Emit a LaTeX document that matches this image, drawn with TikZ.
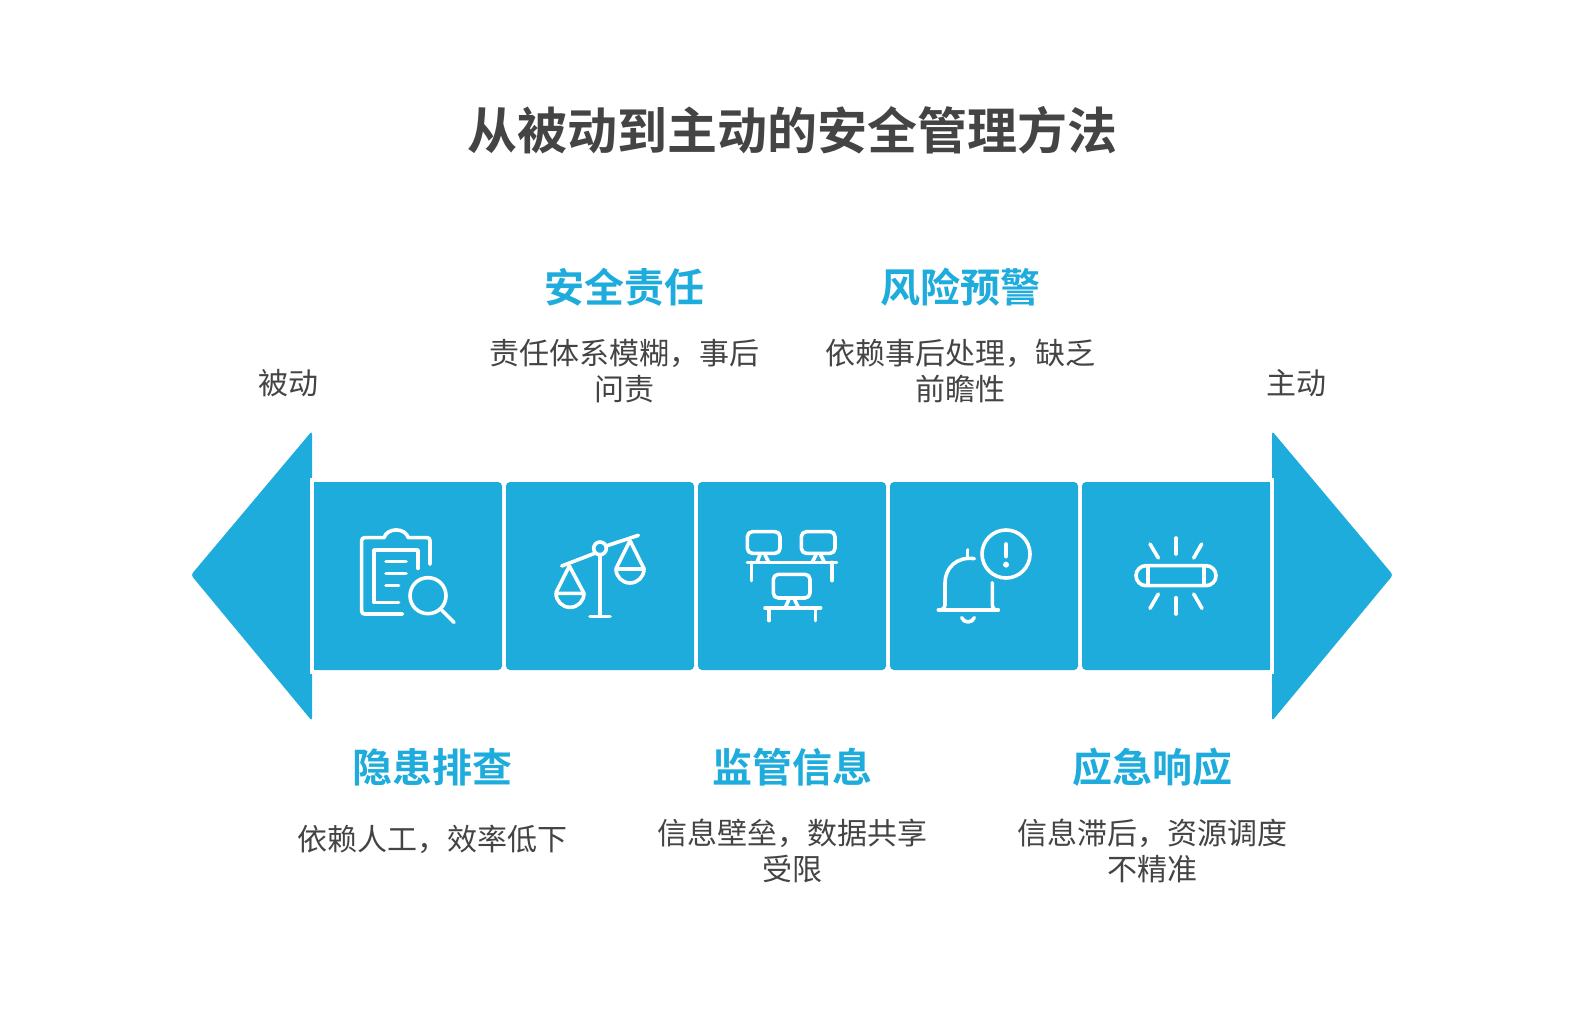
\documentclass[tikz,border=0pt]{standalone}
\usepackage{fontspec}
\setmainfont{Noto Sans CJK SC}
\newfontfamily\cjkbold{Noto Sans CJK SC Bold}
\definecolor{brandblue}{HTML}{1EACDC}
\definecolor{inkgrey}{HTML}{444444}
\tikzset{
  maintitle/.style={font=\cjkbold\fontsize{25}{30}\selectfont,text=inkgrey,inner sep=0pt},
  heading/.style={font=\cjkbold\fontsize{20}{24}\selectfont,text=brandblue,inner sep=0pt},
  bodytext/.style={font=\fontsize{15}{18}\selectfont,text=inkgrey,inner sep=0pt,align=center},
  panel/.style={fill=brandblue,draw=none},
  iconline/.style={draw=white,line width=1.8pt,line cap=round,line join=round,fill=none},
  iconscope/.style={x=0.16667pt,y=-0.16667pt}
}
\begin{document}
\begin{tikzpicture}[x=0.5pt,y=-0.5pt]
\useasboundingbox[fill=white] (0,0) rectangle (1584,1032);
% arrow heads
\path[panel,rounded corners=1.5pt] (191,575) -- (312,431) -- (312,721) -- cycle;
\fill[white] (310,478) rectangle (314,674);
\path[panel,rounded corners=1.5pt] (1393,575) -- (1272,431) -- (1272,721) -- cycle;
\fill[white] (1270,478) rectangle (1274,674);
% panels
\path[panel,rounded corners=2pt] (314,482) rectangle (502,670);
\path[panel] (314,482) rectangle (400,670);
\path[panel,rounded corners=2pt] (506,482) rectangle (694,670);
\path[panel,rounded corners=2pt] (698,482) rectangle (886,670);
\path[panel,rounded corners=2pt] (890,482) rectangle (1078,670);
\path[panel,rounded corners=2pt] (1082,482) rectangle (1270,670);
\path[panel] (1180,482) rectangle (1270,670);
% icon 1 and 2
\begin{scope}[shift={(300,470)},iconscope]
\draw[iconline] (390,283) -- (390,212) .. controls (390,206) and (387,203) .. (381,203) -- (325,203) .. controls (315,172) and (262,172) .. (252,203) -- (194,203) .. controls (188,203) and (185,206) .. (185,212) -- (185,423) .. controls (185,429) and (188,432) .. (194,432) -- (308,432);
\draw[iconline] (354,295) -- (354,240) -- (222,240) -- (222,397) -- (296,397);
\draw[iconline] (258,275) -- (318,275) (258,311) -- (318,311) (258,347) -- (296,347);
\draw[iconline] (384,377) circle[radius=54];
\draw[iconline] (425,420) -- (462,457);
% scales
\draw[iconline] (785,288) -- (884,250) (918,228) -- (1015,196);
\draw[iconline] (900,235) circle[radius=19];
\draw[iconline] (900,255) -- (900,438) (870,439) -- (930,439);
\draw[iconline] (768,368) -- (808,288) -- (851,368);
\draw[iconline] (768,370) -- (852,370) arc[start angle=0,end angle=180,radius=42];
\draw[iconline] (948,296) -- (990,212) -- (1032,296);
\draw[iconline] (948,297) -- (1032,297) arc[start angle=0,end angle=180,radius=42];
\end{scope}
% icon 3 and 4
\begin{scope}[shift={(690,470)},iconscope]
\draw[iconline,rounded corners=2.5pt] (172,185) rectangle (270,250);
\draw[iconline,rounded corners=2.5pt] (334,185) rectangle (435,250);
\draw[iconline,rounded corners=2.5pt] (250,313) rectangle (360,384);
\draw[iconline] (210,255) -- (202,274) (225,255) -- (235,274) (378,255) -- (368,274) (392,255) -- (402,274);
\draw[iconline] (172,277) -- (440,277) (185,277) -- (185,332) (426,277) -- (426,332);
\draw[iconline] (296,390) -- (287,410) (314,390) -- (324,410);
\draw[iconline] (225,414) -- (392,414) (237,414) -- (237,452) (377,414) -- (377,452);
% bell
\draw[iconline] (948,252) circle[radius=72];
\draw[iconline] (948,222) -- (948,260);
\fill[white] (948,284) circle[radius=9];
\draw[iconline] (752,420) .. controls (760,418) and (765,414) .. (765,405) -- (765,338) .. controls (765,295) and (800,258) .. (853,266);
\draw[iconline] (833,240) -- (833,262);
\draw[iconline] (907,338) -- (907,405) .. controls (907,414) and (910,418) .. (918,420);
\draw[iconline] (745,420) -- (925,420);
\draw[iconline] (815,443) .. controls (822,460) and (846,460) .. (853,443);
\end{scope}
% icon 5
\begin{scope}[shift={(1070,420)},iconscope]
\draw[iconline,rounded corners=5pt] (198,437) rectangle (438,497);
\draw[iconline] (234,440) -- (234,494) (402,440) -- (402,494);
\draw[iconline] (318,354) -- (318,402) (318,533) -- (318,582);
\draw[iconline] (240,372) -- (265,414) (395,372) -- (371,414);
\draw[iconline] (265,522) -- (240,565) (371,522) -- (396,565);
\end{scope}
% texts
\node[maintitle] (title) at (792,130) {从被动到主动的安全管理方法};
\node[bodytext] (passive) at (288,383) {被动};
\node[bodytext] (active) at (1296,383) {主动};
\node[heading] (h2) at (624,287) {安全责任};
\node[heading] (h4) at (960,287) {风险预警};
\node[heading] (h1) at (432,767) {隐患排查};
\node[heading] (h3) at (792,767) {监管信息};
\node[heading] (h5) at (1152,767) {应急响应};
\node[bodytext] (b2a) at (624,354) {责任体系模糊，事后};
\node[bodytext] (b2b) at (624,389) {问责};
\node[bodytext] (b4a) at (960,353) {依赖事后处理，缺乏};
\node[bodytext] (b4b) at (960,389) {前瞻性};
\node[bodytext] (b1a) at (432,839) {依赖人工，效率低下};
\node[bodytext] (b3a) at (792,833) {信息壁垒，数据共享};
\node[bodytext] (b3b) at (792,869) {受限};
\node[bodytext] (b5a) at (1152,833) {信息滞后，资源调度};
\node[bodytext] (b5b) at (1152,869) {不精准};
\end{tikzpicture}
\end{document}
